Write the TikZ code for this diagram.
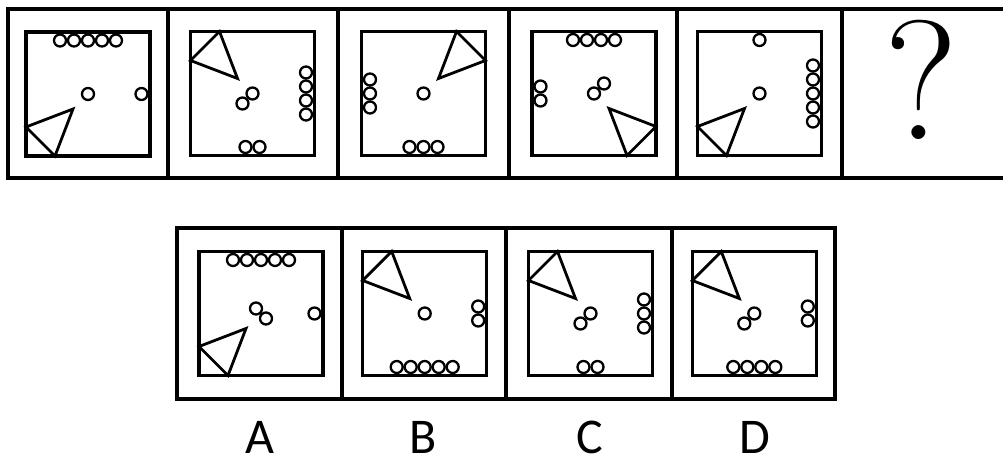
\documentclass[tikz,border=0pt]{standalone}
\usepackage{fontspec}
\newfontfamily\lblfont{Carlito}
\usetikzlibrary{positioning}
% triangle sitting in corner (#1,#2), each +1 or -1
\newcommand{\cornertri}[2]{%
  \draw[trisides] ({62*#1},{33*#2}) -- ({33*#1},{62*#2}) -- ({15*#1},{15*#2}) -- cycle;}
% row of #1 rings along top (#2=1) or bottom (#2=-1) side
\newcommand{\ringrow}[2]{%
  \foreach \i in {1,...,#1}
    \draw[ring] ({(\i-(#1+1)/2)*14},{53.5*#2}) circle (6pt);}
% column of #1 rings along right (#2=1) or left (#2=-1) side
\newcommand{\ringcol}[2]{%
  \foreach \i in {1,...,#1}
    \draw[ring] ({53.5*#2},{(\i-(#1+1)/2)*14}) circle (6pt);}
\newcommand{\ringat}[2]{\draw[ring] (#1,#2) circle (6pt);}

\begin{document}
\begin{tikzpicture}[x=1pt, y=1pt,
  cellline/.style={line width=3.2pt},
  sqline/.style={line width=3.2pt},
  trisides/.style={line width=2.8pt, line join=miter},
  ring/.style={line width=2.3pt},
  lbl/.style={font=\lblfont\fontsize{50}{50}\selectfont, anchor=base, inner sep=0pt},
  qmark/.style={font=\fontsize{170}{170}\selectfont, anchor=base, inner sep=0pt}
]
\useasboundingbox (0,0) rectangle (1003,461);

% Top row: open to the right
\draw[cellline] (1010,452) -- (8,452) -- (8,283) -- (1010,283);
\foreach \x in {168,338,509,677,842}
  \draw[cellline] (\x,452) -- (\x,283);

% Panel 1
\begin{scope}[shift={(88,367)}]
  \draw[sqline] (-62,-62) rectangle (62,62);
  \ringrow{5}{1}
  \ringat{0}{0}
  \ringcol{1}{1}
  \cornertri{-1}{-1}
\end{scope}

% Panel 2
\begin{scope}[shift={(252.5,367.5)}]
  \draw[sqline] (-62,-62) rectangle (62,62);
  \cornertri{-1}{1}
  \ringcol{4}{1}
  \ringat{0}{0}
  \ringat{-10}{-10}
  \ringrow{2}{-1}
\end{scope}

% Panel 3
\begin{scope}[shift={(423.5,367.5)}]
  \draw[sqline] (-62,-62) rectangle (62,62);
  \ringcol{3}{-1}
  \ringat{0}{0}
  \ringrow{3}{-1}
  \cornertri{1}{1}
\end{scope}

% Panel 4
\begin{scope}[shift={(594,367.5)}]
  \draw[sqline] (-62,-62) rectangle (62,62);
  \ringrow{4}{1}
  \ringcol{2}{-1}
  \ringat{0}{0}
  \ringat{10}{10}
  \cornertri{1}{-1}
\end{scope}

% Panel 5
\begin{scope}[shift={(759.5,367.5)}]
  \draw[sqline] (-62,-62) rectangle (62,62);
  \ringrow{1}{1}
  \ringat{0}{0}
  \ringcol{5}{1}
  \cornertri{-1}{-1}
\end{scope}

% Question cell
\node[qmark] (ask) at (921,321) {?};

% Bottom row: options
\draw[cellline] (177,62) rectangle (835,233);
\foreach \x in {342,506,672}
  \draw[cellline] (\x,233) -- (\x,62);

% Option A
\begin{scope}[shift={(261,147.5)}]
  \draw[sqline] (-62,-62) rectangle (62,62);
  \ringrow{5}{1}
  \ringat{-5}{5}
  \ringat{5}{-5}
  \ringcol{1}{1}
  \cornertri{-1}{-1}
\end{scope}

% Option B
\begin{scope}[shift={(424.7,147.5)}]
  \draw[sqline] (-62,-62) rectangle (62,62);
  \cornertri{-1}{1}
  \ringat{0}{0}
  \ringcol{2}{1}
  \ringrow{5}{-1}
\end{scope}

% Option C
\begin{scope}[shift={(590.5,147.5)}]
  \draw[sqline] (-62,-62) rectangle (62,62);
  \cornertri{-1}{1}
  \ringcol{3}{1}
  \ringat{0}{0}
  \ringat{-10}{-10}
  \ringrow{2}{-1}
\end{scope}

% Option D
\begin{scope}[shift={(754.3,147.5)}]
  \draw[sqline] (-62,-62) rectangle (62,62);
  \cornertri{-1}{1}
  \ringcol{2}{1}
  \ringat{0}{0}
  \ringat{-10}{-10}
  \ringrow{4}{-1}
\end{scope}

% Option letters
\node[lbl] (labA) at (260,8) {A};
\node[lbl] (labB) at (423,8) {B};
\node[lbl] (labC) at (590,8) {C};
\node[lbl] (labD) at (755,8) {D};

\end{tikzpicture}
\end{document}
